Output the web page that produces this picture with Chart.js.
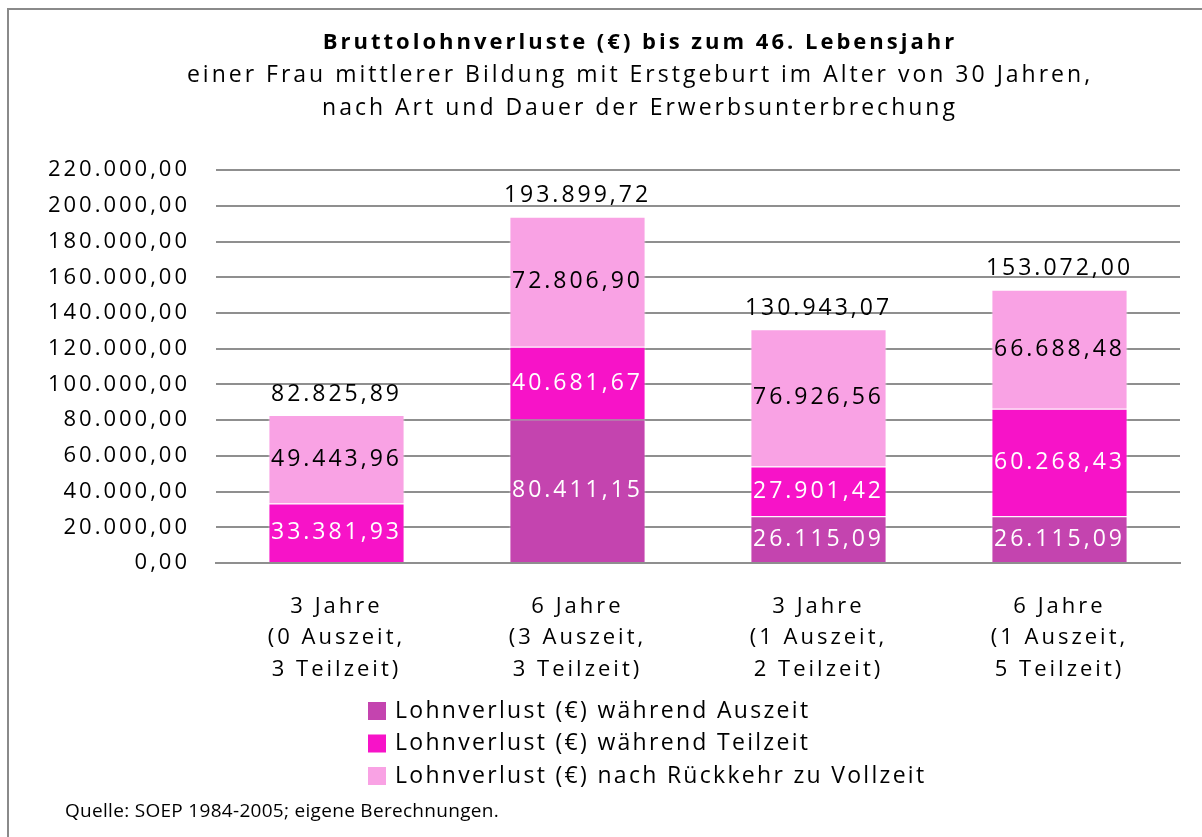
<!DOCTYPE html>
<html>
<head>
<meta charset="utf-8">
<script src="https://cdn.jsdelivr.net/npm/chart.js@4/dist/chart.umd.min.js"></script>
<style>
    body { margin: 0; background: #fff; overflow: hidden; }
    #frame {
        position: absolute; left: 7px; top: 8px; width: 1400px; height: 1000px;
        border-top: 2px solid #8a8a8a; border-left: 2px solid #8a8a8a;
    }
    #wrap { position: absolute; left: 0; top: 0; width: 1202px; height: 837px; }
</style>
</head>
<body>
<div id="frame"></div>
<div id="wrap"><canvas id="lohnChart" width="1202" height="837"></canvas></div>
<script>
const categories = [
    ["3 Jahre", "(0 Auszeit,", "3 Teilzeit)"],
    ["6 Jahre", "(3 Auszeit,", "3 Teilzeit)"],
    ["3 Jahre", "(1 Auszeit,", "2 Teilzeit)"],
    ["6 Jahre", "(1 Auszeit,", "5 Teilzeit)"]
];
const auszeit = [0, 80411.15, 26115.09, 26115.09];
const teilzeit = [33381.93, 40681.67, 27901.42, 60268.43];
const vollzeit = [49443.96, 72806.90, 76926.56, 66688.48];
const seriesNames = [
    "Lohnverlust (€) während Auszeit",
    "Lohnverlust (€) während Teilzeit",
    "Lohnverlust (€) nach Rückkehr zu Vollzeit"
];
const yMin = 0;
const yMax = 220000;
const yStep = 20000;

const font = "'Open Sans', 'DejaVu Sans', sans-serif";

// 1234567.8 -> "1.234.567,80"
function fmt(v) {
    const parts = v.toFixed(2).split(".");
    const int = parts[0].replace(/\B(?=(\d{3})+(?!\d))/g, ".");
    return int + "," + parts[1];
}

const labelPlugin = {
    id: "labels",
    afterLayout(chart) {
        // the heading in the original sits a bit right of the canvas centre
        const TitleEl = Chart.Title && Chart.Title._element;
        chart.boxes.forEach(b => {
            if (TitleEl && b instanceof TitleEl) {
                b.left += 50;
                b.right += 50;
            }
        });
    },
    beforeDraw(chart) {
        // the original is rendered with wide letter spacing
        chart.ctx.letterSpacing = "3px";
    },
    afterDatasetsDraw(chart) {
        const ctx = chart.ctx;
        ctx.save();
        ctx.letterSpacing = "3px";
        ctx.font = "23px " + font;
        ctx.textAlign = "center";
        ctx.textBaseline = "middle";
        chart.data.datasets.forEach((ds, i) => {
            const meta = chart.getDatasetMeta(i);
            meta.data.forEach((el, j) => {
                const v = ds.data[j];
                if (!v) return;
                ctx.fillStyle = ds.labelColor;
                ctx.fillText(fmt(v), el.x, (el.y + el.base) / 2);
            });
        });
        // totals above each stack
        const last = chart.getDatasetMeta(chart.data.datasets.length - 1);
        last.data.forEach((el, j) => {
            let sum = 0;
            chart.data.datasets.forEach(ds => { sum += ds.data[j]; });
            ctx.fillStyle = "#000";
            ctx.fillText(fmt(sum), el.x, el.y - 21);
        });
        ctx.restore();
    },
    afterDraw(chart) {
        const ctx = chart.ctx;
        ctx.save();
        ctx.textBaseline = "middle";
        ctx.textAlign = "left";
        ctx.letterSpacing = "2.3px";
        ctx.font = "23px " + font;
        chart.data.datasets.forEach((ds, i) => {
            const y = 711 + i * 32.5;
            ctx.fillStyle = ds.backgroundColor;
            ctx.fillRect(368, y - 9, 18, 18);
            ctx.fillStyle = "#000";
            ctx.fillText(ds.label, 395, y);
        });
        ctx.letterSpacing = "0.3px";
        ctx.font = "19px " + font;
        ctx.fillText("Quelle: SOEP 1984-2005; eigene Berechnungen.", 65, 812);
        ctx.restore();
    }
};

new Chart(document.getElementById("lohnChart"), {
    type: "bar",
    data: {
        labels: categories,
        datasets: [
            {
                label: seriesNames[0],
                data: auszeit,
                backgroundColor: "#c444af",
                borderColor: "rgba(255,255,255,0.45)",
                borderWidth: 1,
                labelColor: "#fff"
            },
            {
                label: seriesNames[1],
                data: teilzeit,
                backgroundColor: "#f713c8",
                borderColor: "rgba(255,255,255,0.45)",
                borderWidth: 1,
                labelColor: "#fff"
            },
            {
                label: seriesNames[2],
                data: vollzeit,
                backgroundColor: "#f9a2e4",
                borderColor: "rgba(255,255,255,0.45)",
                borderWidth: 1,
                labelColor: "#000"
            }
        ]
    },
    options: {
        responsive: false,
        animation: false,
        events: [],
        layout: { padding: { left: 0, right: 22, top: 0, bottom: 154 } },
        datasets: { bar: { barPercentage: 0.565, categoryPercentage: 1 } },
        plugins: {
            legend: { display: false },
            tooltip: { enabled: false },
            title: {
                display: true,
                text: "Bruttolohnverluste (€) bis zum 46. Lebensjahr",
                color: "#000",
                font: { family: font, size: 22, weight: "bold", lineHeight: 1.2 },
                padding: { top: 30, bottom: 3 }
            },
            subtitle: {
                display: true,
                text: [
                    "einer Frau mittlerer Bildung mit Erstgeburt im Alter von 30 Jahren,",
                    "nach Art und Dauer der Erwerbsunterbrechung"
                ],
                color: "#000",
                font: { family: font, size: 23, lineHeight: 1.43 },
                padding: { top: 0, bottom: 45 }
            }
        },
        scales: {
            x: {
                stacked: true,
                afterFit(scale) { scale.height = 120; },
                grid: { display: false },
                border: { color: "#8f8f8f", width: 2 },
                ticks: {
                    color: "#000",
                    font: { family: font, size: 22, lineHeight: 1.43 },
                    padding: 20,
                    maxRotation: 0
                }
            },
            y: {
                stacked: true,
                min: yMin,
                max: yMax,
                afterFit(scale) { scale.width = 216; },
                grid: { color: "#8f8f8f", lineWidth: 2, drawTicks: false },
                border: { display: false },
                ticks: {
                    stepSize: yStep,
                    color: "#000",
                    padding: 26,
                    font: { family: font, size: 22 },
                    callback: v => fmt(v)
                }
            }
        }
    },
    plugins: [labelPlugin]
});
</script>
</body>
</html>
